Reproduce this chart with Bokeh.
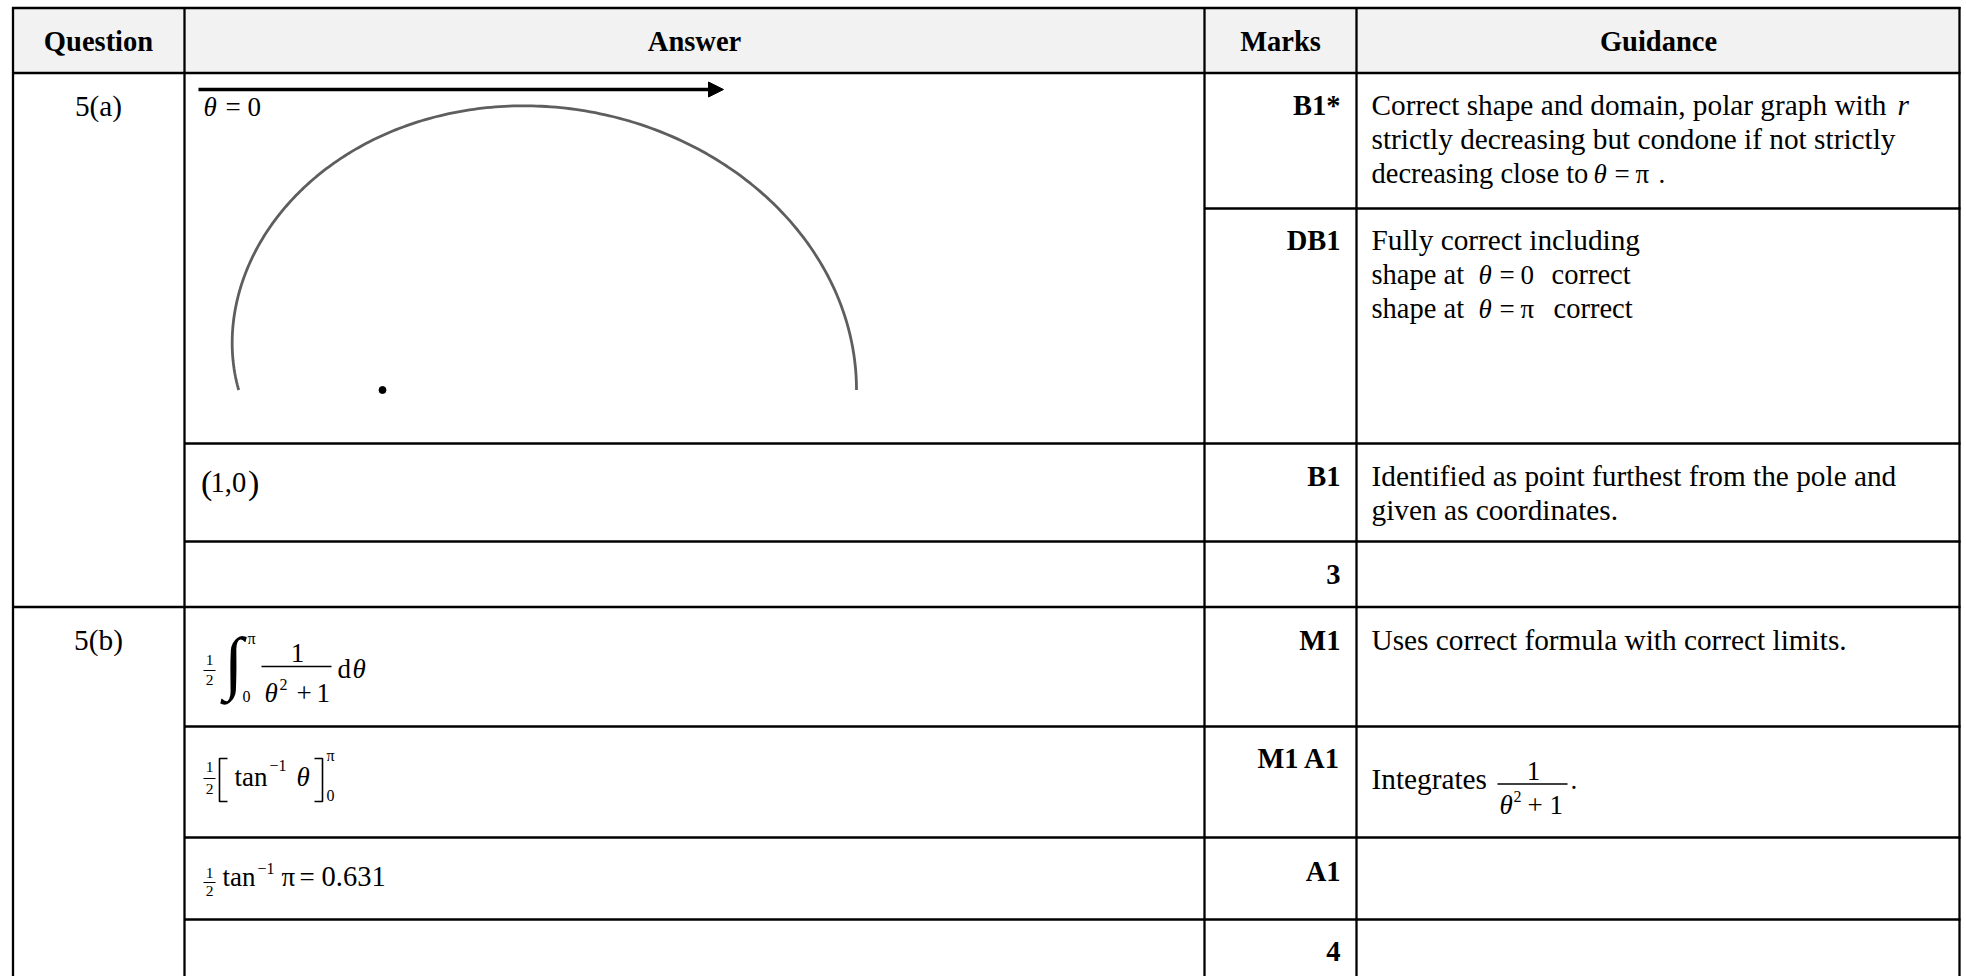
import numpy as np
from bokeh.plotting import figure
from bokeh.models import Range1d, Arrow, NormalHead
from bokeh.core.properties import value
from bokeh.embed import file_html
from bokeh.resources import INLINE

# ---------------- content ----------------
header_labels = ["Question", "Answer", "Marks", "Guidance"]
question_labels = ["5(a)", "5(b)"]
mark_labels = ["B1*", "DB1", "B1", "3", "M1", "M1 A1", "A1", "4"]

guid_b1star = ["Correct shape and domain, polar graph with ",
               "strictly decreasing but condone if not strictly",
               "decreasing close to "]
guid_db1 = ["Fully correct including", "shape at ", "shape at "]
guid_b1 = ["Identified as point furthest from the pole and", "given as coordinates."]
guid_m1 = ["Uses correct formula with correct limits."]
guid_m1a1 = ["Integrates"]
answer_point = "1,0"
answer_value = "0.631"

# polar curve of the question: r^2 = 1/(theta^2 + 1), 0 <= theta <= pi
theta_values = np.linspace(0.0, np.pi, 241)
r_values = 1.0 / np.sqrt(theta_values ** 2 + 1.0)

# ---------------- layout ----------------
W, H = 1962, 976
SERIF = value("Liberation Serif")
BODY = 29.3
SHORT = 28.5
BOLD = 28.5
MATH = 27
SMALL = 15.5
SUP = 16
K = 0.35  # baseline correction (fraction of font size)

p = figure(width=W, height=H, x_range=Range1d(0, W), y_range=Range1d(H, 0),
           output_backend="svg", toolbar_location=None, min_border=0)
p.axis.visible = False
p.grid.visible = False
p.outline_line_color = None
p.background_fill_color = "white"
p.border_fill_color = "white"

def txt(x, y, s, style="normal", size=BODY, align="left"):
    p.text(x=[x], y=[y - K * size], text=[s], text_font=SERIF, text_font_size=f"{size}px",
           text_font_style=style, text_align=align, text_baseline="alphabetic",
           text_color="black")

def hline(x0, x1, y, w=2.3):
    p.segment(x0=[x0], y0=[y], x1=[x1], y1=[y], line_color="black", line_width=w)

# header background
p.quad(left=[12], right=[1959], top=[7.5], bottom=[72], fill_color="#f2f2f2", line_color=None)

# grid lines
col_x = [12.5, 184, 1204, 1356, 1959]
for cx in col_x:
    p.segment(x0=[cx], y0=[6.5], x1=[cx], y1=[H], line_color="black", line_width=2.3)
hline(11.5, 1960, 7.5)
hline(11.5, 1960, 72.5)
hline(1204, 1960, 208)
hline(184, 1960, 443)
hline(184, 1960, 541)
hline(11.5, 1960, 606.5)
hline(184, 1960, 726)
hline(184, 1960, 837)
hline(184, 1960, 919)

# header text
for lab, cx in zip(header_labels, [98, 694, 1280, 1658]):
    txt(cx, 51, lab, style="bold", size=BOLD, align="center")

# question labels
for lab, by in zip(question_labels, [116, 650]):
    txt(98, by, lab, size=BODY, align="center")

# marks
for lab, by in zip(mark_labels, [115, 250, 486, 584, 650, 768, 881, 961]):
    txt(1340, by, lab, style="bold", size=BOLD, align="right")

# guidance
GX = 1371
txt(GX, 115, guid_b1star[0]); txt(1897, 115, "r", style="italic")
txt(GX, 149, guid_b1star[1])
txt(GX, 183, guid_b1star[2], size=SHORT); txt(1593, 183, "\u03b8", style="italic", size=MATH)
txt(1614, 183, "=", size=MATH); txt(1635, 183, "\u03c0", size=MATH); txt(1658, 183, ".", size=MATH)

txt(GX, 250, guid_db1[0])
txt(GX, 284, guid_db1[1], size=SHORT); txt(1478, 284, "\u03b8", style="italic", size=MATH)
txt(1499, 284, "=", size=MATH); txt(1520, 284, "0", size=MATH); txt(1551, 284, "correct", size=SHORT)
txt(GX, 318, guid_db1[2], size=SHORT); txt(1478, 318, "\u03b8", style="italic", size=MATH)
txt(1499, 318, "=", size=MATH); txt(1520, 318, "\u03c0", size=MATH); txt(1553, 318, "correct", size=SHORT)

txt(GX, 486, guid_b1[0])
txt(GX, 520, guid_b1[1])
txt(GX, 650, guid_m1[0])
txt(GX, 789, guid_m1a1[0])
txt(1533, 780, "1", size=MATH, align="center")
hline(1497, 1567, 783.5, w=1.3)
txt(1499, 814, "\u03b8", style="italic", size=MATH)
txt(1513, 802, "2", size=SUP)
txt(1527, 814, "+", size=MATH)
txt(1549, 814, "1", size=MATH)
txt(1570, 789, ".", size=MATH)

# answer: polar sketch
pole_x, pole_y, unit = 382, 389.5, 474
cx_pts = pole_x + unit * r_values * np.cos(theta_values)
cy_pts = pole_y - unit * r_values * np.sin(theta_values)
p.line(cx_pts, cy_pts, line_color="#555555", line_width=2.8, line_alpha=0.95)
p.scatter([pole_x], [pole_y], size=7, marker="circle", fill_color="black", line_color="black")
p.add_layout(Arrow(end=NormalHead(size=15, fill_color="black", line_color="black"),
                   x_start=198, y_start=89, x_end=723, y_end=89,
                   line_color="black", line_width=3.5))
txt(203, 116, "\u03b8", style="italic", size=MATH)
txt(225, 116, "=", size=MATH)
txt(247, 116, "0", size=MATH)

# answer: point
txt(200.5, 494, "(", size=34)
txt(210, 492, answer_point, size=28.5)
txt(247.5, 494, ")", size=34)

def half(yn, yd, ybar):
    txt(209, yn, "1", size=SMALL, align="center")
    txt(209, yd, "2", size=SMALL, align="center")
    hline(203, 215, ybar, w=1.0)

# answer: integral
half(665, 685, 670)
txt(223.5, 686, "\u222b", size=70)
txt(247, 644, "\u03c0", size=SUP)
txt(242, 702, "0", size=SUP)
txt(297, 662, "1", size=MATH, align="center")
hline(261, 331, 666, w=1.3)
txt(264, 702, "\u03b8", style="italic", size=MATH)
txt(279, 690, "2", size=SUP)
txt(296, 702, "+", size=MATH)
txt(316, 702, "1", size=MATH)
txt(337, 678, "d", size=MATH)
txt(352, 678, "\u03b8", style="italic", size=MATH)

# answer: bracket evaluation
half(772, 794, 778)
p.line([227, 219, 219, 227], [758, 758, 801, 801], line_color="black", line_width=1.6)
txt(234, 786, "tan", size=MATH)
txt(269, 771, "\u22121", size=SUP)
txt(296, 786, "\u03b8", style="italic", size=MATH)
p.line([314, 322, 322, 314], [758, 758, 801, 801], line_color="black", line_width=1.6)
txt(326, 761, "\u03c0", size=SUP)
txt(326, 801, "0", size=SUP)

# answer: value
half(878, 896, 882)
txt(222, 886, "tan", size=MATH)
txt(257, 874, "\u22121", size=SUP)
txt(281, 886, "\u03c0", size=MATH)
txt(299, 886, "=", size=MATH)
txt(321, 886, answer_value, size=28.5)

open("out.html", "w").write(file_html(p, INLINE))
